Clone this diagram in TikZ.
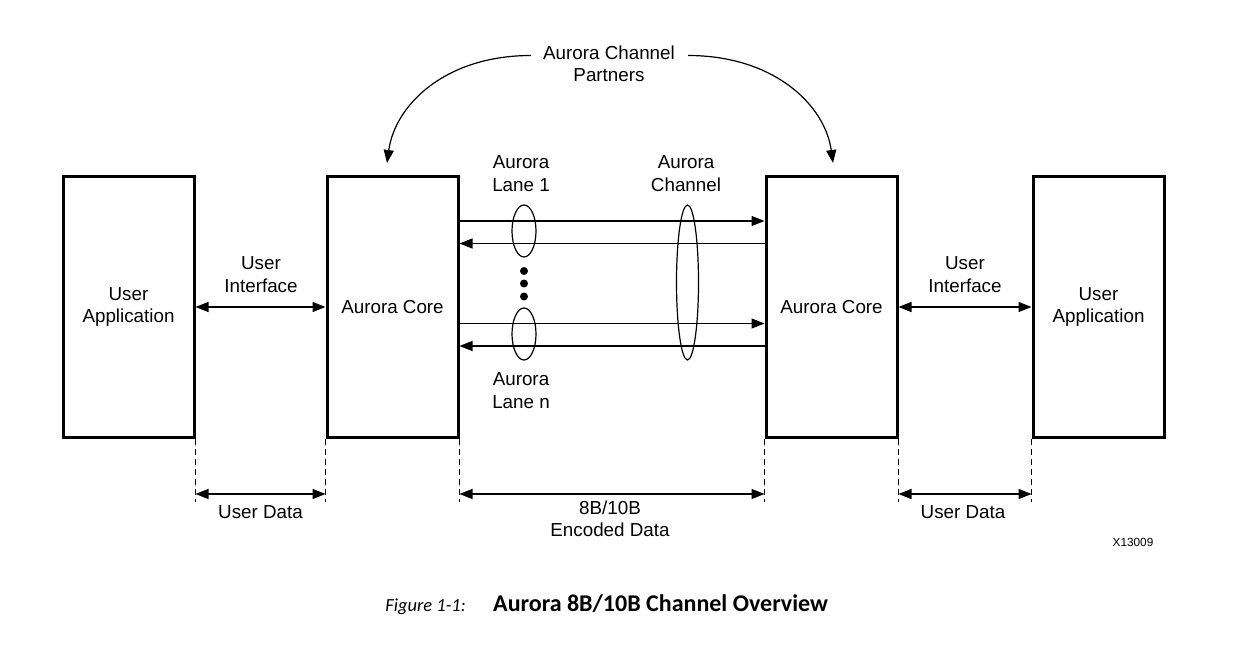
\documentclass[tikz,border=0pt]{standalone}
\usepackage{fontspec}
\setmainfont{Liberation Sans}
\newfontfamily\capfont{Carlito}
\usetikzlibrary{arrows.meta,shapes.geometric,calc}
\begin{document}
\begin{tikzpicture}[x=1pt,y=-1pt,
  every node/.style={font=\fontsize{18.8}{22.5}\selectfont, align=center, inner sep=0pt},
  blk/.style={draw, line width=3pt, minimum width=131pt, minimum height=260pt},
  tip/.style={-{Triangle[length=13pt,width=10pt]}},
  both/.style={{Triangle[length=13pt,width=10pt]}-{Triangle[length=13pt,width=10pt]}},
  wire/.style={line width=1.2pt},
  dim/.style={line width=1pt, dash pattern=on 6pt off 4pt},
  ring/.style={draw, ellipse, line width=1.2pt, inner sep=0pt}
]
\useasboundingbox (0,0) rectangle (1236,655);

% blocks
\node[blk] (b1) at (128.5,307) {User\\Application};
\node[blk] (b2) at (392.5,307) {Aurora Core};
\node[blk] (b3) at (831.5,307) {Aurora Core};
\node[blk] (b4) at (1098.5,307) {User\\Application};

% helper rows
\coordinate (r1) at (0,221);
\coordinate (r2) at (0,243.5);
\coordinate (r3) at (0,323.5);
\coordinate (r4) at (0,346);
\coordinate (rd) at (0,494);
\coordinate (rb) at (0,502);

% lanes
\draw[wire,tip] (b2.east |- r1) -- (b3.west |- r1);
\draw[wire,tip] (b3.west |- r2) -- (b2.east |- r2);
\draw[wire,tip] (b2.east |- r3) -- (b3.west |- r3);
\draw[wire,tip] (b3.west |- r4) -- (b2.east |- r4);

% ellipses
\node[ring, minimum width=24pt, minimum height=52pt] (e1) at (524,231) {};
\node[ring, minimum width=24pt, minimum height=52pt] (en) at (524,334) {};
\node[ring, minimum width=22pt, minimum height=155pt] (ec) at (687.5,282.5) {};

% dots
\fill (524,271) circle (4pt);
\fill (524,283.5) circle (4pt);
\fill (524,296.5) circle (4pt);

% user interfaces
\draw[wire,both] (b1.east) -- (b2.west);
\draw[wire,both] (b3.east) -- (b4.west);
\node (ui1) at (261,274.5) {User\\Interface};
\node (ui2) at (965,274.5) {User\\Interface};

% labels
\node (l1) at (521,173.5) {Aurora\\Lane 1};
\node (lc) at (686,173.5) {Aurora\\Channel};
\node (ln) at (521,390.5) {Aurora\\Lane n};
\node (cp) at (609,64) {Aurora Channel\\Partners};

% partner arrows
\coordinate (cps) at (531,55.5);
\coordinate (cpe) at (688,55.5);
\coordinate (t2) at (387,163);
\coordinate (t3) at (833,163);
\draw[wire,tip] (cps) .. controls (445,55.5) and (395,105) .. (t2);
\draw[wire,tip] (cpe) .. controls (774,55.5) and (825,105) .. (t3);

% dashed extension lines
\draw[dim] (b1.south east) -- (b1.south east |- rb);
\draw[dim] (b2.south west) -- (b2.south west |- rb);
\draw[dim] (b2.south east) -- (b2.south east |- rb);
\draw[dim] (b3.south west) -- (b3.south west |- rb);
\draw[dim] (b3.south east) -- (b3.south east |- rb);
\draw[dim] (b4.south west) -- (b4.south west |- rb);

% dimension arrows
\draw[wire,both] (b1.south east |- rd) -- (b2.south west |- rd);
\draw[wire,both] (b2.south east |- rd) -- (b3.south west |- rd);
\draw[wire,both] (b3.south east |- rd) -- (b4.south west |- rd);
\node (ud1) at (260.5,512) {User Data};
\node (ud2) at (963,512) {User Data};
\node (enc) at (610,519) {8B/10B\\Encoded Data};

\node[font=\fontsize{11.8}{13}\selectfont] (xid) at (1133,542) {X13009};

% caption
\node[anchor=base east, font=\capfont\fontsize{18.5}{22}\selectfont\itshape] (fig) at (466,611) {Figure 1-1:};
\node[anchor=base west, font=\capfont\fontsize{24}{28}\selectfont\bfseries] (cap) at (493,611) {Aurora 8B/10B Channel Overview};
\end{tikzpicture}
\end{document}
